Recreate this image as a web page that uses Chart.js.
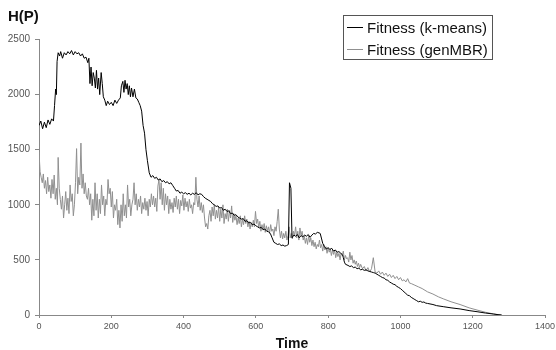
<!DOCTYPE html>
<html lang="en">
<head>
  <meta charset="UTF-8" />
  <title>Fitness over time</title>
  <script src="https://cdn.jsdelivr.net/npm/chart.js"></script>
  <style>
    html, body { margin: 0; padding: 0; background: #fff; }
    #wrap { width: 556px; height: 350px; }
  </style>
</head>
<body>
  <div id="wrap"><canvas id="fitChart" width="556" height="350"></canvas></div>

  <script>
    // ---- data ----
    const yTicks = [0, 500, 1000, 1500, 2000, 2500];
    const xTicks = [0, 200, 400, 600, 800, 1000, 1200, 1400];

    // Fitness (k-means)
    const kmTime = [0,5,10,15,20,25,30,35,40,43,46,48,50,53,57,60,65,70,75,80,85,90,95,100,105,110,115,120,125,130,135,138,141,144,147,150,153,156,159,162,165,168,172,175,178,182,186,190,195,200,205,210,215,220,225,228,232,235,238,241,244,247,250,253,256,260,264,268,272,276,280,284,288,292,296,300,
      305,310,315,320,325,330,335,340,345,350,355,360,365,370,375,380,385,390,395,400,405,410,415,420,425,430,435,440,445,450,455,460,465,470,475,480,485,490,495,500,505,510,515,520,525,530,535,540,545,550,555,560,565,570,575,580,585,590,595,600,605,610,615,620,625,630,635,640,645,650,655,660,665,670,675,680,685,690,693,697,700,705,710,715,720,725,730,735,740,745,750,755,760,765,770,775,778,782,785,790,795,800,805,810,815,820,825,830,835,840,842,845,848,855,860,865,870,875,880,885,890,895,900,905,910,915,920,925,930,935,940,945,950,955,960,965,970,975,980,985,990,995,1000,1005,1010,1015,1020,1025,1030,1035,1040,1045,1050,1055,1060,1065,1070,1075,1090,1100,1120,1140,1165,1190,1212,1235,1257,1270,1280];
    const kmFit = [1720,1760,1690,1750,1700,1770,1730,1780,1760,1900,2050,2000,2300,2380,2350,2390,2330,2380,2360,2390,2370,2400,2360,2390,2370,2380,2350,2370,2330,2340,2290,2330,2100,2250,2080,2200,2150,2060,2220,2050,2150,2000,2200,2100,1980,1950,1900,1940,1910,1930,1900,1950,1920,1950,1970,2080,2120,2020,2130,2050,2100,2000,2080,1980,2060,1980,2050,1970,1960,1930,1900,1850,1720,1650,1500,1400,
      1290,1250,1265,1240,1250,1225,1235,1210,1220,1200,1210,1190,1200,1175,1150,1125,1130,1105,1115,1100,1110,1095,1105,1090,1105,1095,1110,1090,1100,1095,1075,1060,1050,1040,1030,1010,1000,985,990,970,975,950,960,940,945,920,925,905,910,890,880,870,875,850,855,835,840,820,825,810,800,790,795,775,780,760,755,740,700,660,650,640,645,630,635,625,630,640,1200,1150,700,725,715,730,700,720,710,725,715,730,705,725,740,735,750,745,740,690,650,620,600,610,595,605,580,590,570,575,560,545,520,480,460,450,440,445,430,435,420,425,410,415,405,410,400,395,390,385,380,370,360,350,340,335,320,315,300,290,280,275,260,250,240,225,210,195,180,175,160,150,140,130,120,125,115,118,108,105,95,85,75,65,55,40,30,18,9,3,0];

    // Fitness (genMBR)
    const genTime = [0,3,6,9,12,15,18,21,24,27,30,33,36,39,42,45,48,51,53,56,59,62,65,68,71,74,77,80,83,86,89,92,95,98,101,104,107,110,113,116,119,122,125,128,131,134,137,140,143,146,149,152,155,158,161,164,167,170,173,176,179,182,185,188,191,194,197,200,203,206,209,212,215,218,221,224,227,230,233,236,239,242,245,248,251,254,257,260,263,266,269,272,275,278,281,284,287,290,293,296,299,302,305,308,311,314,317,320,323,326,329,332,335,338,341,344,347,350,353,356,359,362,365,368,371,374,377,380,383,386,389,392,395,398,401,404,407,410,413,416,419,422,425,428,431,434,437,440,443,446,449,452,455,458,461,464,467,470,473,476,479,482,485,488,491,494,497,500,503,506,509,512,515,518,521,524,527,530,533,536,539,542,545,548,551,554,557,560,563,566,569,572,575,578,581,584,587,590,593,596,599,602,605,608,611,614,617,620,623,626,629,632,635,638,641,644,647,650,653,656,659,662,665,668,671,674,677,680,683,686,689,692,695,698,701,704,707,710,713,716,719,722,725,728,731,734,737,740,743,746,749,752,755,758,761,764,767,770,773,776,779,782,785,788,791,794,797,800,803,806,809,812,815,818,821,824,827,830,833,836,839,842,845,848,851,854,857,860,863,866,869,872,875,878,881,884,887,890,895,900,905,910,915,920,925,930,935,940,945,950,955,960,965,970,975,980,985,990,995,1000,1005,1010,1015,1020,1025,1030,1040,1050,1060,1075,1090,1105,1120,1140,1165,1190,1212,1235,1257,1270,1280];
    const genFit = [1480,1300,1250,1200,1280,1150,1220,1100,1250,1120,1180,1060,1230,1100,1270,1050,1150,1000,1430,1150,1050,960,1080,880,1000,1120,950,1060,920,1180,1030,1100,900,1000,1200,1510,1100,1250,1180,1560,1150,1280,1100,1200,1080,1050,1150,1000,1100,860,1050,900,1200,950,1100,880,1050,920,1180,1000,1080,900,1050,1000,1230,1100,1150,980,1120,880,1000,950,1050,820,950,790,1000,850,1100,900,1000,880,1180,980,1050,900,1000,1050,1200,1000,1100,950,1050,980,1080,920,1020,960,1060,950,1030,900,1050,980,1100,1000,1080,980,1060,940,1170,1230,1050,1200,1000,1150,950,1100,1000,1080,920,1050,960,1020,930,1060,980,1080,960,1050,920,1040,990,1090,950,1060,980,1030,940,1050,970,1000,920,1020,1000,1250,1050,980,1080,950,1020,930,1000,880,800,830,780,900,950,850,980,900,1000,870,950,880,980,850,960,880,1000,830,920,870,960,850,950,880,990,840,920,860,900,820,880,830,900,800,870,820,900,830,870,800,850,780,840,800,860,800,940,830,870,790,850,760,820,770,830,750,810,760,800,740,820,760,780,720,800,760,850,960,780,700,760,690,740,700,760,680,720,800,700,740,690,760,720,800,700,760,680,790,720,760,680,720,650,700,640,720,660,700,630,680,620,660,600,640,620,680,610,640,580,640,590,620,560,610,570,600,540,590,550,590,520,570,530,560,500,560,540,580,500,540,510,520,480,570,500,540,470,500,460,490,440,470,430,460,420,440,400,430,390,420,520,390,380,400,370,390,360,380,350,370,340,360,330,350,320,340,310,320,300,330,290,285,270,255,240,210,190,165,145,120,95,65,45,25,10,3,0];

    const seriesNames = ['Fitness (k-means)', 'Fitness (genMBR)'];
    const seriesColors = ['#000000', '#909090'];

    const toPoints = (xs, ys) => xs.map((x, i) => ({ x: x, y: ys[i] }));

    // boxed legend in the upper right, like the original
    const boxLegend = {
      id: 'boxLegend',
      afterDraw(chart) {
        const c = chart.ctx;
        const left = 343, top = 15, w = 149, h = 44;
        c.save();
        c.strokeStyle = '#555';
        c.lineWidth = 1;
        c.strokeRect(left + 0.5, top + 0.5, w, h);
        c.font = '15px "Liberation Sans", Arial, sans-serif';
        c.textBaseline = 'alphabetic';
        c.fillStyle = '#111';
        chart.data.datasets.forEach((ds, i) => {
          const y = top + 12.5 + i * 22;
          c.strokeStyle = ds.borderColor;
          c.beginPath();
          c.moveTo(left + 4, y);
          c.lineTo(left + 20, y);
          c.stroke();
          c.fillText(ds.label, left + 24, y + 5);
        });
        c.restore();
      }
    };

    const plainNum = v => String(v);

    new Chart(document.getElementById('fitChart'), {
      type: 'line',
      data: {
        datasets: [
          {
            label: seriesNames[0],
            data: toPoints(kmTime, kmFit),
            borderColor: seriesColors[0],
            borderWidth: 1,
            pointRadius: 0,
            tension: 0
          },
          {
            label: seriesNames[1],
            data: toPoints(genTime, genFit),
            borderColor: seriesColors[1],
            borderWidth: 1,
            pointRadius: 0,
            tension: 0
          }
        ]
      },
      options: {
        responsive: false,
        animation: false,
        layout: { padding: { left: 8, right: 11, top: 0, bottom: 0 } },
        plugins: {
          legend: { display: false },
          tooltip: { enabled: false },
          title: {
            display: true,
            text: 'H(P)',
            align: 'start',
            color: '#111',
            font: { family: '"Liberation Sans", Arial, sans-serif', size: 15, weight: 'bold' },
            padding: { top: 8, bottom: 13.5 }
          }
        },
        scales: {
          x: {
            type: 'linear',
            min: 0,
            max: 1400,
            afterBuildTicks: s => { s.ticks = xTicks.map(v => ({ value: v })); },
            afterFit: s => { s.height = 35; s.paddingLeft = 0; s.paddingRight = 0; },
            grid: { drawOnChartArea: false, drawTicks: true, tickLength: 3, color: '#888' },
            border: { display: true, color: '#888', width: 1 },
            ticks: {
              color: '#555',
              padding: 3,
              maxRotation: 0,
              callback: plainNum,
              font: { family: '"Liberation Sans", Arial, sans-serif', size: 9 }
            },
            title: {
              display: true,
              text: 'Time',
              color: '#111',
              padding: 0,
              font: { family: '"Liberation Sans", Arial, sans-serif', size: 14, weight: 'bold', lineHeight: 0.8 }
            }
          },
          y: {
            min: 0,
            max: 2500,
            afterBuildTicks: s => { s.ticks = yTicks.map(v => ({ value: v })); },
            afterFit: s => { s.width = 31; s.paddingTop = 0; s.paddingBottom = 0; },
            grid: { drawOnChartArea: false, drawTicks: true, tickLength: 4, color: '#888' },
            border: { display: true, color: '#888', width: 1 },
            ticks: {
              color: '#555',
              padding: 5,
              callback: plainNum,
              font: { family: '"Liberation Sans", Arial, sans-serif', size: 10 }
            }
          }
        }
      },
      plugins: [boxLegend]
    });
  </script>
</body>
</html>
